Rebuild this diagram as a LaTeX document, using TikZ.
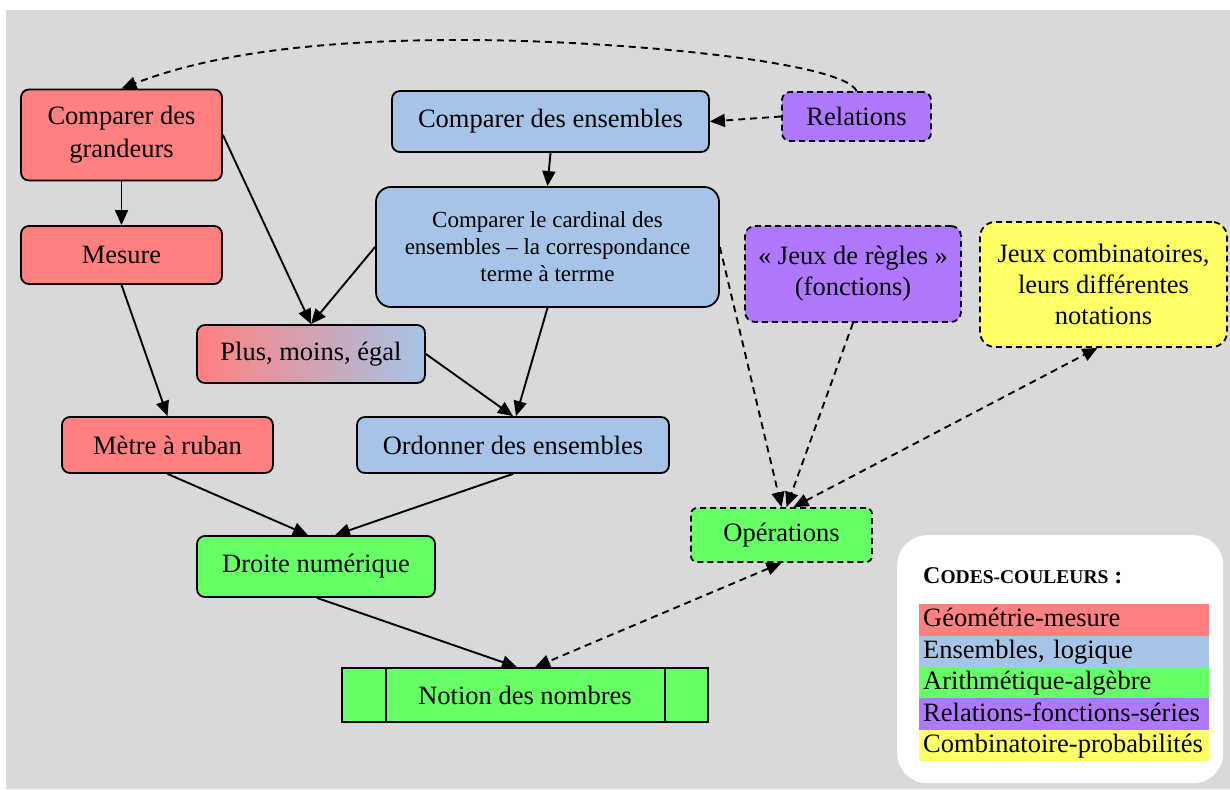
\documentclass[tikz,border=0pt]{standalone}
\usepackage{fontspec}
\setmainfont{Liberation Serif}
\usetikzlibrary{arrows.meta,calc}
\definecolor{cbg}{HTML}{D9D9D9}
\definecolor{cred}{HTML}{FF8080}
\definecolor{cblue}{HTML}{A6C4E8}
\definecolor{cgreen}{HTML}{66FF66}
\definecolor{cpurple}{HTML}{B077FF}
\definecolor{cyellow}{HTML}{FFFF66}
\newcommand\mainfs{\fontsize{26.5}{31}\selectfont}
\newcommand\cardfs{\fontsize{23}{27}\selectfont}
\tikzset{
  box/.style={draw, line width=1.8pt, rounded corners=8pt, inner sep=0pt, align=center, font=\mainfs},
  dbox/.style={box, dash pattern=on 6pt off 4pt},
  arr/.style={line width=1.9pt, -{Triangle[length=15pt,width=13pt]}},
  darr/.style={arr, dash pattern=on 7pt off 5pt},
  darrtwo/.style={line width=1.9pt, dash pattern=on 7pt off 5pt, {Triangle[length=15pt,width=13pt]}-{Triangle[length=15pt,width=13pt]}},
  legrow/.style={anchor=north west, minimum height=31.4pt, text width=282pt, inner xsep=4pt, inner ysep=0pt, align=left, text height=20pt, text depth=6pt, font=\mainfs},
}
\begin{document}
\begin{tikzpicture}[x=1pt,y=-1pt]
\useasboundingbox (0,0) rectangle (1230,789);
\fill[white] (0,0) rectangle (1230,789);
\fill[cbg] (6,10) rectangle (1230,789);

% nodes
\node[box, fill=cred, minimum width=201pt, minimum height=91pt] (grand) at (121.5,135) {Comparer des\\[2pt]grandeurs};
\node[box, fill=cred, minimum width=201pt, minimum height=58pt] (mesure) at (121.5,255) {Mesure};
\node[box, fill=cblue, minimum width=317pt, minimum height=61pt] (ens) at (550.5,121.5) {Comparer des ensembles};
\node[box, fill=cblue, rounded corners=15pt, minimum width=343pt, minimum height=120pt, font=\cardfs] (card) at (547.5,247) {Comparer le cardinal des\\ensembles – la correspondance\\terme à terrme};
\node[dbox, fill=cpurple, minimum width=149pt, minimum height=49pt] (rel) at (856.5,116.5) {Relations};
\node[dbox, fill=cpurple, rounded corners=10pt, minimum width=216pt, minimum height=96pt] (regles) at (853,274) {«~Jeux de règles~»\\(fonctions)};
\node[dbox, fill=cyellow, rounded corners=15pt, minimum width=247pt, minimum height=125pt] (combi) at (1103.5,284.5) {Jeux combinatoires,\\leurs différentes\\notations};
\node[box, left color=cred, right color=cblue, minimum width=228pt, minimum height=58pt] (plus) at (311,354) {Plus, moins, égal};
\node[box, fill=cred, minimum width=211pt, minimum height=56pt] (metre) at (167.5,445) {Mètre à ruban};
\node[box, fill=cblue, minimum width=312pt, minimum height=56pt] (ord) at (513,445) {Ordonner des ensembles};
\node[dbox, fill=cgreen, rounded corners=6pt, minimum width=181pt, minimum height=54pt] (op) at (781.5,535) {Opérations};
\node[box, fill=cgreen, minimum width=238pt, minimum height=61pt] (droite) at (316,566.5) {Droite numérique};
\node[draw, line width=1.8pt, fill=cgreen, minimum width=366pt, minimum height=54pt, inner sep=0pt, font=\mainfs] (notion) at (525,695) {Notion des nombres};
\draw[line width=1.8pt] ($(notion.north west)+(45,0)$) -- ($(notion.south west)+(45,0)$);
\draw[line width=1.8pt] ($(notion.north east)+(-44,0)$) -- ($(notion.south east)+(-44,0)$);

% legend
\node[fill=white, rounded corners=30pt, minimum width=326pt, minimum height=248pt, anchor=north west, inner sep=0pt] (legend) at (897,535) {};
\node[anchor=base west, inner sep=0pt, font=\bfseries] (title) at (923,583) {{\fontsize{24}{24}\selectfont C}{\fontsize{19.5}{20}\selectfont ODES-COULEURS}{\fontsize{24}{24}\selectfont~:}};
\node[legrow, fill=cred] (l1) at (919,604) {Géométrie-mesure};
\node[legrow, fill=cblue] (l2) at (919,635.4) {Ensembles, logique};
\node[legrow, fill=cgreen] (l3) at (919,666.8) {Arithmétique-algèbre};
\node[legrow, fill=cpurple] (l4) at (919,698.2) {Relations-fonctions-séries};
\node[legrow, fill=cyellow] (l5) at (919,729.6) {Combinatoire-probabilités};

% connectors
\coordinate (arcpeak) at (460,40);
\draw[arr] (grand) -- (mesure);
\draw[arr] (grand.east) -- (plus.north);
\draw[arr] (card.west) -- (plus.north);
\draw[arr] (mesure.south) -- (metre.north);
\draw[arr] (ens.south) -- (card.north);
\draw[arr] (card.south) -- ([xshift=3pt]ord.north);
\draw[arr] (plus.east) -- (ord.north);
\draw[arr] (metre.south) -- ([xshift=-8pt]droite.north);
\draw[arr] (ord.south) -- ([xshift=19pt]droite.north);
\draw[arr] ([xshift=1pt]droite.south) -- ([xshift=-8pt]notion.north);
\draw[darr] (rel.west) -- (ens.east);
\draw[darr] (rel.north) .. controls (845,62) and (620,40) .. (arcpeak) .. controls (300,40) and (200,58) .. (grand.north);
\draw[darr] (card.east) -- (op.north);
\draw[darr] (regles.south) -- ([xshift=5pt]op.north);
\draw[darrtwo] ([xshift=12pt]op.north) -- ([xshift=-6pt]combi.south);
\draw[darrtwo] (op.south) -- ([xshift=10pt]notion.north);
\end{tikzpicture}
\end{document}
